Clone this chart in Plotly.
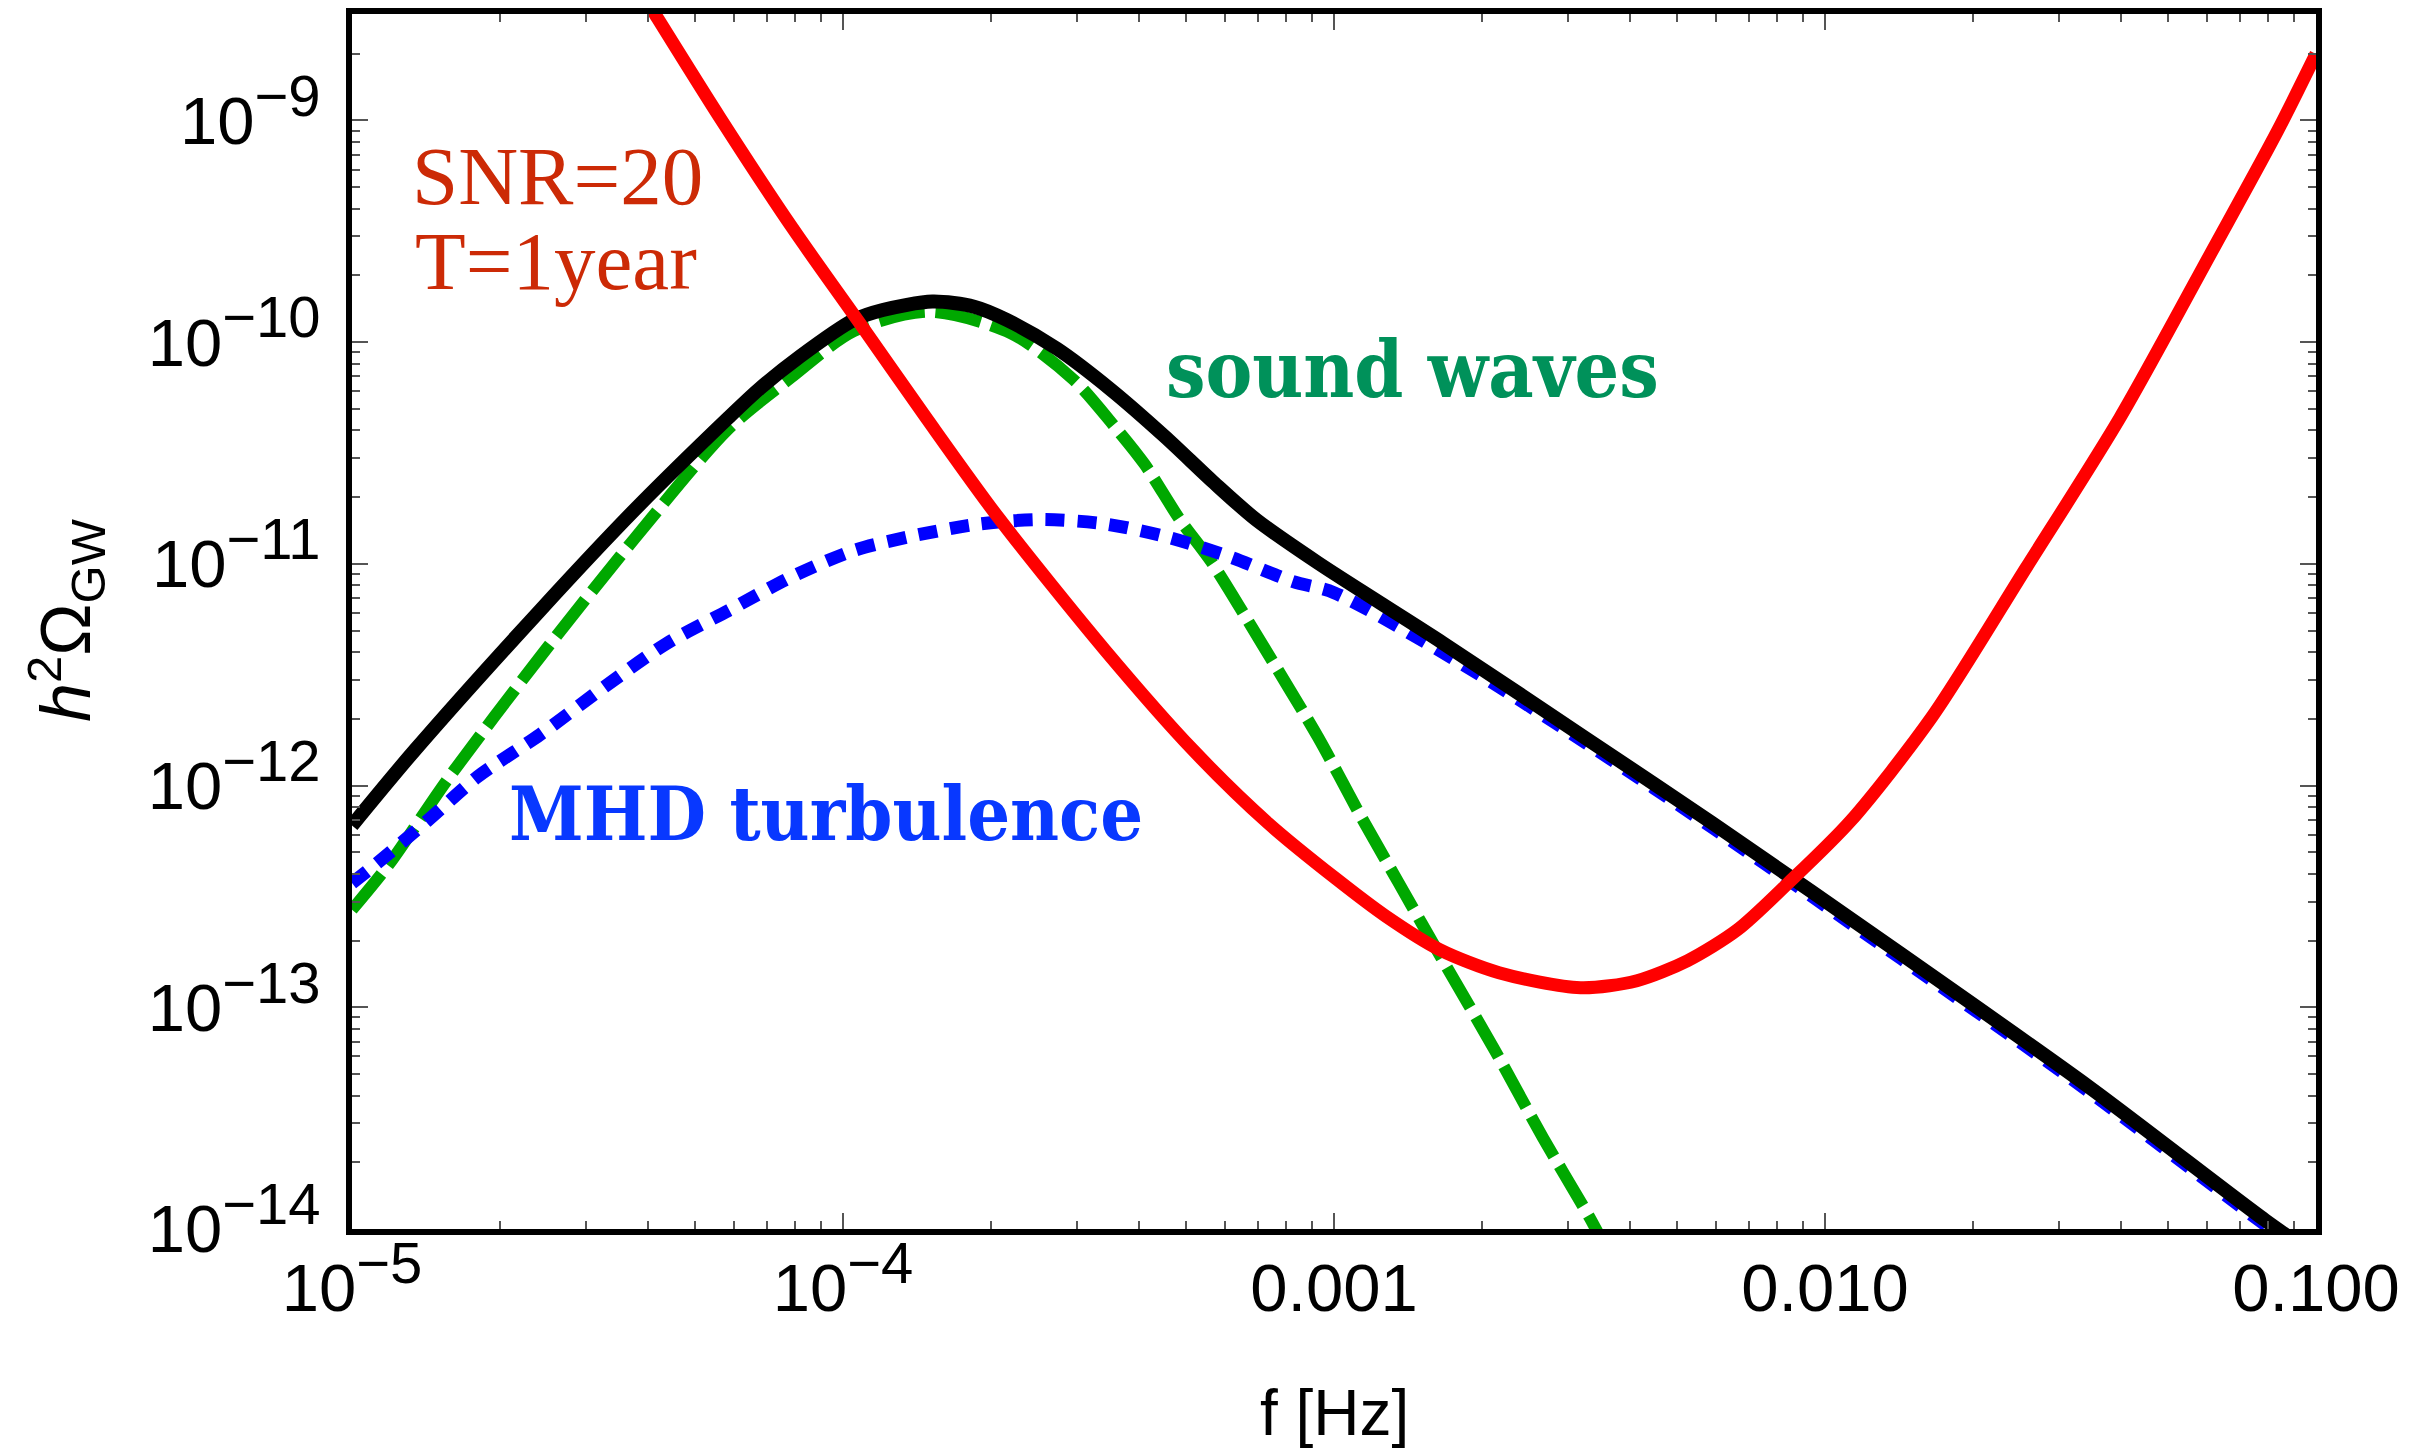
import numpy as np
import plotly.graph_objects as go

# ---- data (log10 values) ----
total_logf = [-5.0, -4.872, -4.617, -4.426, -4.233, -4.17, -4.088, -3.978, -3.919, -3.818,
              -3.733, -3.666, -3.564, -3.454, -3.345, -3.244, -3.159, -3.033, -2.906, -2.779,
              -2.485, -2.229, -1.845, -1.462, -1.104, -1.0]
total_logO = [-12.18, -11.84, -11.21, -10.76, -10.34, -10.21, -10.065, -9.90, -9.855, -9.817,
              -9.84, -9.90, -10.03, -10.215, -10.425, -10.635, -10.80, -10.995, -11.176, -11.356,
              -11.79, -12.17, -12.76, -13.36, -13.96, -14.12]

sw_logf = [-5.0, -4.923, -4.808, -4.617, -4.426, -4.233, -4.106, -3.978, -3.825, -3.658,
           -3.53, -3.447, -3.386, -3.314, -3.25, -3.147, -3.033, -2.945, -2.868, -2.778,
           -2.676, -2.574, -2.479, -2.45]
sw_logO = [-12.56, -12.35, -11.98, -11.42, -10.89, -10.39, -10.16, -9.95, -9.863, -9.96,
           -10.17, -10.38, -10.55, -10.80, -10.99, -11.36, -11.78, -12.14, -12.44, -12.79,
           -13.18, -13.59, -13.95, -14.07]

mhd_logf = [-5.0, -4.949, -4.847, -4.744, -4.617, -4.489, -4.36, -4.233, -4.106, -3.978,
            -3.849, -3.722, -3.595, -3.466, -3.338, -3.21, -3.083, -3.0, -2.74, -2.485,
            -2.229, -1.845, -1.462, -1.104, -1.0]
mhd_logO = [-12.44, -12.35, -12.16, -11.96, -11.77, -11.56, -11.36, -11.21, -11.06, -10.94,
            -10.87, -10.82, -10.80, -10.82, -10.88, -10.97, -11.08, -11.13, -11.45, -11.81,
            -12.19, -12.78, -13.38, -13.98, -14.14]

snr_logf = [-4.45, -4.383, -4.25, -4.103, -3.969, -3.831, -3.684, -3.466, -3.287, -3.134,
            -2.996, -2.894, -2.785, -2.664, -2.498, -2.383, -2.28, -2.178, -2.075, -1.948,
            -1.782, -1.591, -1.399, -1.207, -1.079, -1.0]
snr_logO = [-8.28, -8.52, -8.99, -9.485, -9.905, -10.34, -10.79, -11.39, -11.84, -12.17,
            -12.42, -12.59, -12.74, -12.844, -12.912, -12.88, -12.79, -12.65, -12.44, -12.16,
            -11.69, -11.02, -10.34, -9.57, -9.05, -8.70]

SUP = "<sup><span style='font-size:58px'>−%s</span></sup>"
x_tickvals = [1e-5, 1e-4, 1e-3, 1e-2, 1e-1]
x_ticktext = ["10" + SUP % "5", "10" + SUP % "4", "0.001", "0.010", "0.100"]
y_exps = [-14, -13, -12, -11, -10, -9]
y_tickvals = [10.0 ** e for e in y_exps]
y_ticktext = ["10" + SUP % str(-e) for e in y_exps]


def pw(a):
    return list(np.power(10.0, np.array(a)))


x_minor = [m * 10.0 ** k for k in range(-5, -1) for m in range(2, 10)]
y_minor = [m * 10.0 ** k for k in range(-14, -8) for m in range(2, 10)]

fig = go.Figure()
fig.add_trace(go.Scatter(x=pw(sw_logf), y=pw(sw_logO), mode="lines",
                         line=dict(color="#00a800", width=12, dash="46px,11px",
                                   shape="spline", smoothing=0.8)))
fig.add_trace(go.Scatter(x=pw(mhd_logf), y=pw(mhd_logO), mode="lines",
                         line=dict(color="#0000ff", width=13, dash="19px,13px",
                                   shape="spline", smoothing=0.8)))
fig.add_trace(go.Scatter(x=pw(total_logf), y=pw(total_logO), mode="lines",
                         line=dict(color="#000000", width=14, shape="spline", smoothing=0.8)))
fig.add_trace(go.Scatter(x=pw(snr_logf), y=pw(snr_logO), mode="lines",
                         line=dict(color="#ff0000", width=13, shape="spline", smoothing=0.8)))

W, H = 2432, 1449
L, R, T, B = 352, 2316, 14, 1229


def px(X):
    return (X - L) / (R - L)


def py(Y):
    return (B - Y) / (B - T)


axis_common = dict(
    showgrid=False, zeroline=False, showline=True, linecolor="black", linewidth=6,
    mirror="ticks", ticks="inside", ticklen=16, tickwidth=2, tickcolor="#555555",
    tickfont=dict(family="Liberation Sans, Arial, sans-serif", size=67, color="black"),
)

fig.update_layout(
    width=W, height=H,
    margin=dict(l=L, r=W - R, t=T, b=H - B, autoexpand=False),
    paper_bgcolor="white", plot_bgcolor="white",
    showlegend=False,
    xaxis=dict(type="log", range=[-5, -1], tickmode="array", tickvals=x_tickvals,
               ticktext=x_ticktext, ticklabelstandoff=-4,
               minor=dict(tickmode="array", tickvals=x_minor, ticks="inside", ticklen=8,
                          tickwidth=2, tickcolor="#555555", showgrid=False),
               **axis_common),
    yaxis=dict(type="log", range=[-14, -8.52], tickmode="array", tickvals=y_tickvals,
               ticktext=y_ticktext, ticklabelstandoff=12,
               minor=dict(tickmode="array", tickvals=y_minor, ticks="inside", ticklen=8,
                          tickwidth=2, tickcolor="#555555", showgrid=False),
               **axis_common),
)

serif = "Liberation Serif, Times New Roman, serif"
slab = "DejaVu Serif Condensed, DejaVu Serif, serif"
sans = "Liberation Sans, Arial, sans-serif"
ann = [
    dict(text="SNR=20", x=px(557), y=py(176), font=dict(family=serif, size=83, color="#cc2a06")),
    dict(text="T=1year", x=px(556), y=py(261), font=dict(family=serif, size=83, color="#cc2a06")),
    dict(text="<b>sound waves</b>", x=px(1412), y=py(370),
         font=dict(family=slab, size=78, color="#00915a")),
    dict(text="<b>MHD turbulence</b>", x=px(826), y=py(814),
         font=dict(family=slab, size=75, color="#0838ff")),
    dict(text="f [Hz]", x=px(1334), y=py(1413), font=dict(family=sans, size=64, color="black")),
    dict(text="<i>h</i><sup>2</sup>Ω<sub>GW</sub>", x=px(66), y=py(620), textangle=-90,
         font=dict(family=sans, size=70, color="black")),
]
for a in ann:
    a.update(xref="paper", yref="paper", showarrow=False, xanchor="center", yanchor="middle")
fig.update_layout(annotations=ann)

fig.write_html("out.html")
